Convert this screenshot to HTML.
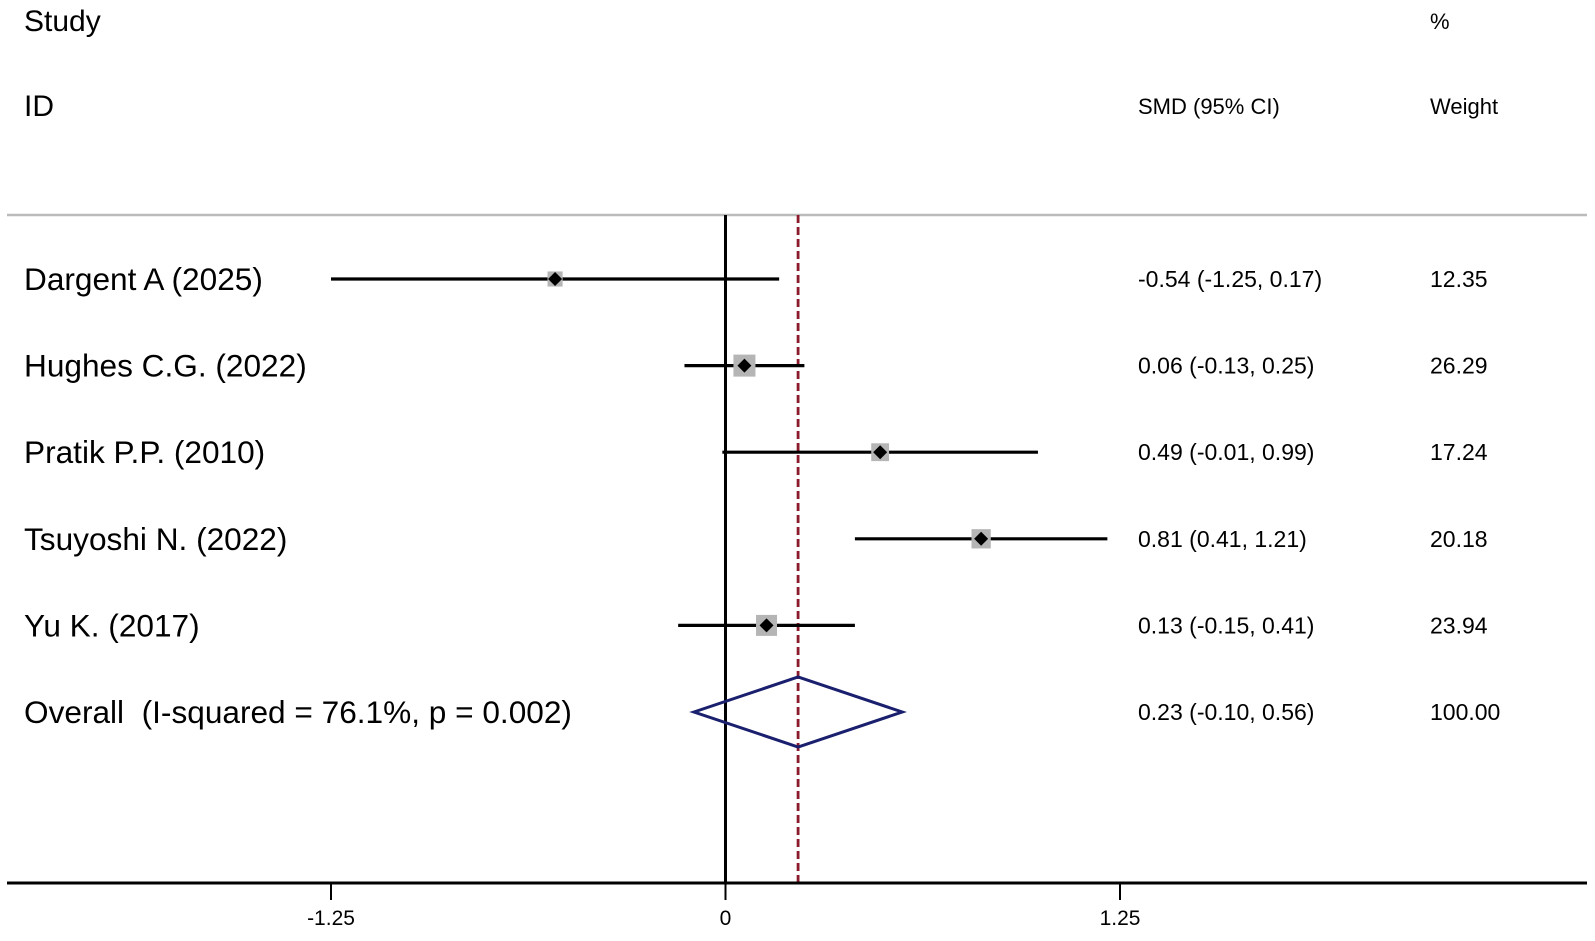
<!DOCTYPE html>
<html><head><meta charset="utf-8"><style>
body{margin:0;background:#fff;}
svg text{font-family:"Liberation Sans",Arial,sans-serif;fill:#000;white-space:pre;}
</style></head><body>
<svg width="1595" height="936" viewBox="0 0 1595 936">
<text x="24" y="31" font-size="30">Study</text>
<text x="24" y="116" font-size="30">ID</text>
<text x="1138" y="114" font-size="22">SMD (95% CI)</text>
<text x="1430" y="29" font-size="22">%</text>
<text x="1430" y="114" font-size="22">Weight</text>
<line x1="7" y1="215" x2="1587" y2="215" stroke="#bbb" stroke-width="2.5"/>
<g id="plot"></g>
</svg>
<script>
const studies=["Dargent A (2025)","Hughes C.G. (2022)","Pratik P.P. (2010)","Tsuyoshi N. (2022)","Yu K. (2017)"];
const smd=[-0.54,0.06,0.49,0.81,0.13];
const lo=[-1.25,-0.13,-0.01,0.41,-0.15];
const hi=[0.17,0.25,0.99,1.21,0.41];
const weights=[12.35,26.29,17.24,20.18,23.94];
const overall=[0.23,-0.10,0.56];
const overallLabel="Overall  (I-squared = 76.1%, p = 0.002)";
const ticks=[-1.25,0,1.25];
const tickLabels=["-1.25","0","1.25"];
const NS="http://www.w3.org/2000/svg";
const g=document.getElementById('plot');
const X=v=>725.5+v*315.6;
const Y=i=>279+i*86.6;
function mk(t,a){const e=document.createElementNS(NS,t);for(const k in a)e.setAttribute(k,a[k]);g.appendChild(e);return e;}
const fmt=v=>v.toFixed(2);
let e;
e=mk('line',{x1:X(0),y1:215,x2:X(0),y2:883,stroke:'#000','stroke-width':3});


e=mk('line',{x1:X(overall[0]),y1:215,x2:X(overall[0]),y2:883,stroke:'#8b1a2a','stroke-width':2.8,'stroke-dasharray':'8,4'});


studies.forEach((s,i)=>{
 const y=Y(i);
 e=mk('line',{x1:X(lo[i]),y1:y,x2:X(hi[i]),y2:y,stroke:'#000','stroke-width':3.2});
 
 
 const sz=22*Math.sqrt(weights[i]/26.29);
 e=mk('rect',{x:X(smd[i])-sz/2,y:y-sz/2,width:sz,height:sz,fill:'#b5b5b5'});
 
 
 e=mk('path',{d:`M${X(smd[i])-7},${y} L${X(smd[i])},${y-7} L${X(smd[i])+7},${y} L${X(smd[i])},${y+7} Z`,fill:'#000'});
 
 
 e=mk('text',{x:24,y:y+11,'font-size':31.6});e.textContent=s;
 
 
 e=mk('text',{x:1138,y:y+8,'font-size':23});e.textContent=`${fmt(smd[i])} (${fmt(lo[i])}, ${fmt(hi[i])})`;
 
 
 e=mk('text',{x:1430,y:y+8,'font-size':23});e.textContent=fmt(weights[i]);
 
 
});
const yo=Y(5);
e=mk('path',{d:`M${X(overall[1])},${yo} L${X(overall[0])},${yo-35} L${X(overall[2])},${yo} L${X(overall[0])},${yo+35} Z`,fill:'none',stroke:'#1a1f6e','stroke-width':3});


e=mk('text',{x:24,y:yo+11,'font-size':31.6});e.textContent=overallLabel;


e=mk('text',{x:1138,y:yo+8,'font-size':23});e.textContent=`${fmt(overall[0])} (${fmt(overall[1])}, ${fmt(overall[2])})`;


e=mk('text',{x:1430,y:yo+8,'font-size':23});e.textContent="100.00";


e=mk('line',{x1:7,y1:883,x2:1587,y2:883,stroke:'#000','stroke-width':3});


ticks.forEach((t,i)=>{
 e=mk('line',{x1:X(t),y1:883,x2:X(t),y2:900,stroke:'#000','stroke-width':2});
 
 
 e=mk('text',{x:X(t),y:925,'font-size':21,'text-anchor':'middle'});e.textContent=tickLabels[i];
 
 
});
</script>
</body></html>
